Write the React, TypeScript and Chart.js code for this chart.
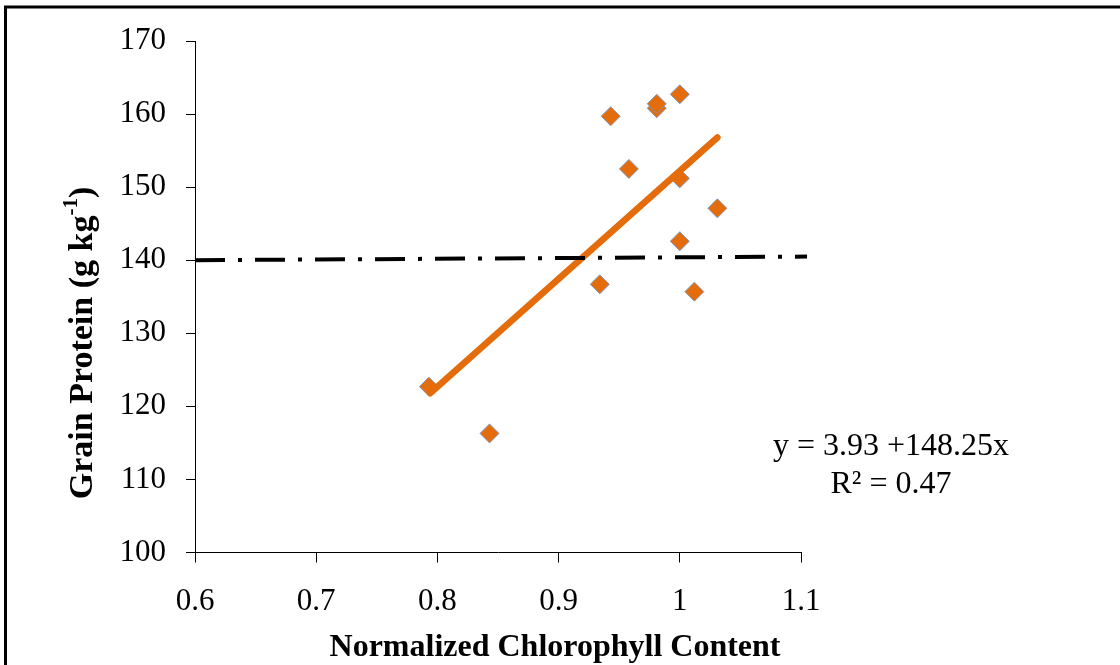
import React, { useEffect, useRef } from 'react';
import { Chart, registerables } from 'chart.js';

Chart.register(...registerables);

// Observed data (normalized chlorophyll vs grain protein)
const chlorophyll = [0.793, 0.843, 0.934, 0.943, 0.958, 0.981, 0.981, 1.0, 1.0, 1.0, 1.012, 1.031];
const protein = [122.7, 116.3, 136.7, 159.7, 152.5, 160.8, 161.4, 162.7, 151.2, 142.6, 135.7, 147.1];

// Fitted regression line end points
const fitX = [0.794, 1.031];
const fitY = [121.8, 156.8];

// Threshold (dash-dot) line
const thresholdX = [0.6, 1.105];
const thresholdY = [140.0, 140.5];

const xTickLabels = ['0.6', '0.7', '0.8', '0.9', '1', '1.1'];
const yTickLabels = ['100', '110', '120', '130', '140', '150', '160', '170'];

const equationText = 'y = 3.93 +148.25x';
const r2Text = 'R\u00B2 = 0.47';
const xTitle = 'Normalized Chlorophyll Content';
const yTitleMain = 'Grain Protein (g kg';
const yTitleSup = '-1';
const yTitleEnd = ')';

const SERIF = '"Liberation Serif", "Times New Roman", serif';

const overlayPlugin = {
  id: 'overlay',
  beforeDraw(chart: any) {
    const ctx = chart.ctx;
    ctx.save();
    ctx.fillStyle = '#ffffff';
    ctx.fillRect(0, 0, chart.width, chart.height);
    ctx.strokeStyle = '#000000';
    ctx.lineWidth = 3;
    ctx.beginPath();
    ctx.moveTo(5.5, chart.height + 10);
    ctx.lineTo(5.5, 7);
    ctx.lineTo(chart.width + 10, 7);
    ctx.stroke();
    ctx.restore();
  },
  afterDraw(chart: any) {
    const ctx = chart.ctx;
    ctx.save();
    ctx.fillStyle = '#000000';
    // equation
    ctx.font = `32px ${SERIF}`;
    ctx.textAlign = 'center';
    ctx.textBaseline = 'alphabetic';
    ctx.fillText(equationText, 891, 455);
    ctx.fillText(r2Text, 891, 493);
    // x title
    ctx.font = `bold 32px ${SERIF}`;
    ctx.fillText(xTitle, 555, 656);
    // y title (rotated, with superscript)
    ctx.translate(92, 343);
    ctx.rotate(-Math.PI / 2);
    const mainFont = `bold 34px ${SERIF}`;
    const supFont = `bold 21px ${SERIF}`;
    ctx.font = mainFont;
    const w1 = ctx.measureText(yTitleMain).width;
    const w3 = ctx.measureText(yTitleEnd).width;
    ctx.font = supFont;
    const w2 = ctx.measureText(yTitleSup).width;
    const total = w1 + w2 + w3;
    let x = -total / 2;
    ctx.textAlign = 'left';
    ctx.font = mainFont;
    ctx.fillText(yTitleMain, x, 0);
    x += w1;
    ctx.font = supFont;
    ctx.fillText(yTitleSup, x, -15);
    x += w2;
    ctx.font = mainFont;
    ctx.fillText(yTitleEnd, x, 0);
    ctx.restore();
  },
};

export default function App() {
  const canvasRef = useRef<HTMLCanvasElement | null>(null);

  useEffect(() => {
    document.body.style.margin = '0';
    const canvas = canvasRef.current;
    if (!canvas) return;

    const points = chlorophyll.map((x, i) => ({ x, y: protein[i] }));
    const fit = fitX.map((x, i) => ({ x, y: fitY[i] }));
    const threshold = thresholdX.map((x, i) => ({ x, y: thresholdY[i] }));

    const chart = new Chart(canvas, {
      type: 'scatter',
      data: {
        datasets: [
          {
            label: 'Threshold',
            data: threshold,
            showLine: true,
            borderColor: '#000000',
            borderWidth: 4,
            borderDash: [30, 13, 4, 13],
            pointRadius: 0,
            clip: false,
            order: 0,
          } as any,
          {
            label: 'Fit',
            data: fit,
            showLine: true,
            borderColor: '#E46C0A',
            borderWidth: 6.5,
            borderCapStyle: 'round',
            pointRadius: 0,
            order: 1,
          } as any,
          {
            label: 'Observed',
            data: points,
            pointStyle: 'rectRot',
            pointRadius: 9.5,
            backgroundColor: '#E46C0A',
            borderColor: 'rgba(120,150,195,0.9)',
            borderWidth: 1,
            order: 2,
          } as any,
        ],
      },
      options: {
        responsive: false,
        animation: false,
        events: [],
        layout: { padding: { left: 0, top: 41, right: 319, bottom: 0 } },
        plugins: {
          legend: { display: false },
          tooltip: { enabled: false },
          title: { display: false },
        },
        scales: {
          x: {
            type: 'linear',
            min: 0.6,
            max: 1.1,
            ticks: {
              stepSize: 0.1,
              color: '#000000',
              padding: 21,
              maxRotation: 0,
              font: { family: SERIF, size: 31 },
              callback: (_v: any, i: number) => xTickLabels[i],
            },
            grid: { drawOnChartArea: false, drawTicks: true, tickLength: 10, color: '#000000' },
            border: { display: true, color: '#000000', width: 1 },
            afterFit: (scale: any) => {
              scale.height = 112.5;
            },
          },
          y: {
            type: 'linear',
            min: 100,
            max: 170,
            ticks: {
              stepSize: 10,
              color: '#000000',
              padding: 20,
              font: { family: SERIF, size: 31 },
              callback: (_v: any, i: number) => yTickLabels[i],
            },
            grid: { drawOnChartArea: false, drawTicks: true, tickLength: 9, color: '#000000' },
            border: { display: true, color: '#000000', width: 1 },
            afterFit: (scale: any) => {
              scale.width = 195;
            },
          },
        },
      },
      plugins: [overlayPlugin],
    });

    return () => {
      chart.destroy();
    };
  }, []);

  return (
    <div style={{ width: 1120, height: 665 }}>
      <canvas ref={canvasRef} width={1120} height={665} style={{ display: 'block' }} />
    </div>
  );
}
